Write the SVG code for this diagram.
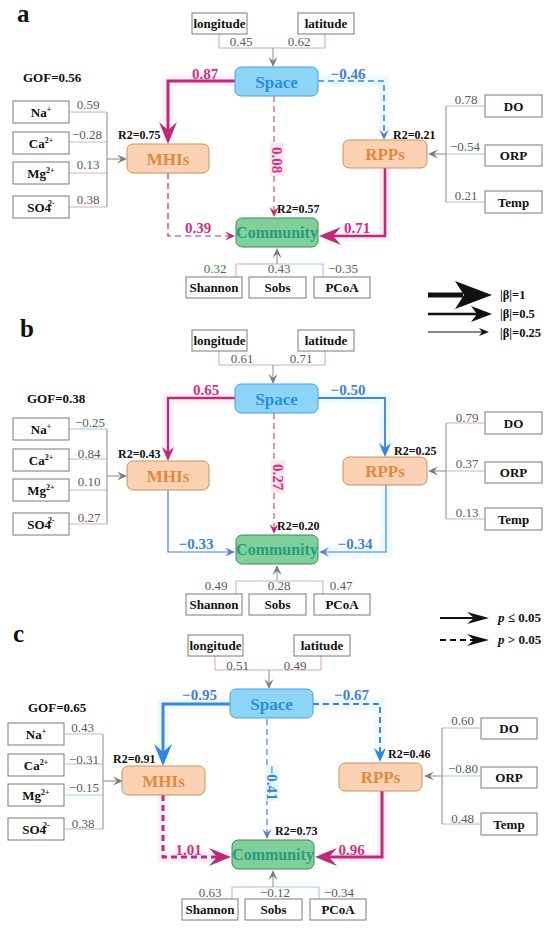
<svg xmlns="http://www.w3.org/2000/svg" width="550" height="928" viewBox="0 0 550 928">
<style>
text{font-family:"Liberation Serif","Times New Roman",serif}
.bg{fill:#fff}
.bx{fill:#fff;stroke:#7a7a7a;stroke-width:1}
.bt{font-weight:bold;font-size:13px;fill:#111;text-anchor:middle}
.ld{font-size:13px;fill:#5a5a5a;text-anchor:middle}
.r2{font-weight:bold;font-size:12px;fill:#111}
.gof{font-weight:bold;font-size:13px;fill:#111}
.pl{font-weight:bold;font-size:25px;fill:#111}
.nt{font-weight:bold;font-size:17px;text-anchor:middle}
.pm{font-weight:bold;font-size:15px;fill:#d12f82;text-anchor:middle}
.pb{font-weight:bold;font-size:15px;fill:#3d80db;text-anchor:middle}
.lg{font-weight:bold;font-size:12.5px;fill:#111}
.fp{fill:none;stroke:#d9a9c6;stroke-width:1.1}
.fn{fill:none;stroke:#9fcbee;stroke-width:1.1}
.fg{fill:none;stroke:#959595;stroke-width:1.1}
.cm{fill:none;stroke:#c0287a}
.cb{fill:none;stroke:#3b86e2}
.da{stroke-dasharray:6 4}
.gp{fill:none;stroke:#fef0f7;stroke-width:11}
.gb{fill:none;stroke:#eefafe;stroke-width:11}
.sp{fill:#8dd5f6;stroke:#4aa0dc;stroke-width:1}
.spt{fill:#2a8fe2}
.mh{fill:#fbd2b4;stroke:#c8935a;stroke-width:1}
.mht{fill:#e3893c}
.co{fill:#80d09c;stroke:#3d8b58;stroke-width:1}
.cot{fill:#2b9a80}
.sup{font-size:8px}
</style>
<defs>
<marker id="mLm" viewBox="-23 -10 24 20" refX="-14" refY="0" markerWidth="24" markerHeight="20" markerUnits="userSpaceOnUse" orient="auto"><path d="M0,0 L-22,-9 L-14,0 L-22,9Z" fill="#c0287a"/></marker>
<marker id="mLb" viewBox="-23 -10 24 20" refX="-14" refY="0" markerWidth="24" markerHeight="20" markerUnits="userSpaceOnUse" orient="auto"><path d="M0,0 L-22,-9 L-14,0 L-22,9Z" fill="#2f84e6"/></marker>
<marker id="mMm" viewBox="-15 -7 16 14" refX="-9" refY="0" markerWidth="16" markerHeight="14" markerUnits="userSpaceOnUse" orient="auto"><path d="M0,0 L-14,-6 L-9,0 L-14,6Z" fill="#c0287a"/></marker>
<marker id="mMb" viewBox="-15 -7 16 14" refX="-9" refY="0" markerWidth="16" markerHeight="14" markerUnits="userSpaceOnUse" orient="auto"><path d="M0,0 L-14,-6 L-9,0 L-14,6Z" fill="#2f84e6"/></marker>
<marker id="mSm" viewBox="-11 -5 12 10" refX="-6" refY="0" markerWidth="12" markerHeight="10" markerUnits="userSpaceOnUse" orient="auto"><path d="M0,0 L-10,-4.5 L-6,0 L-10,4.5Z" fill="#c0287a"/></marker>
<marker id="mSb" viewBox="-11 -5 12 10" refX="-6" refY="0" markerWidth="12" markerHeight="10" markerUnits="userSpaceOnUse" orient="auto"><path d="M0,0 L-10,-4.5 L-6,0 L-10,4.5Z" fill="#5b78e0"/></marker>
<marker id="mSg" viewBox="-11 -5 12 10" refX="-6" refY="0" markerWidth="12" markerHeight="10" markerUnits="userSpaceOnUse" orient="auto"><path d="M0,0 L-10,-4.5 L-6,0 L-10,4.5Z" fill="#7d7d7d"/></marker>
</defs>
<rect class="bg" x="0" y="0" width="550" height="928"/>

<!-- ================= PANEL A ================= -->
<g id="panel-a">
<text class="pl" x="17" y="22">a</text>
<text class="gof" x="23" y="82">GOF=0.56</text>
<g id="a-connectors">
<path class="gp" d="M235,81 H168 V140"/>
<path class="gb" d="M318,81 H384 V136"/>
<path class="gp" d="M385,168 V236 H325"/>
<path class="fp" d="M219,34 V48 H273"/>
<path class="fp" d="M325,34 V48 H273"/>
<path class="fg" d="M273,48 V61" marker-end="url(#mSg)"/>
<path class="fp" d="M69,112 H107"/>
<path class="fn" d="M69,142 H107"/>
<path class="fp" d="M69,173 H107"/>
<path class="fp" d="M69,207 H107"/>
<path class="fg" d="M107,112 V207"/>
<path class="fg" d="M107,159 H121" marker-end="url(#mSg)"/>
<path class="fp" d="M485,106 H446"/>
<path class="fn" d="M485,154 H446"/>
<path class="fp" d="M485,202 H446"/>
<path class="fg" d="M446,106 V202"/>
<path class="fg" d="M446,154 H434" marker-end="url(#mSg)"/>
<path class="fp" d="M236,277 V264 H277"/>
<path class="fn" d="M323,277 V264 H277"/>
<path class="fg" d="M277,264 V254" marker-end="url(#mSg)"/>
<path class="cm" stroke-width="3" d="M235,81 H168 V130" marker-end="url(#mLm)"/>
<path class="cb da" stroke-width="1.6" d="M318,81 H384 V134" marker-end="url(#mSb)"/>
<path class="cm da" stroke-width="1" d="M274,96 V211" marker-end="url(#mSm)"/>
<path class="cm da" stroke-width="1.2" d="M168,173 V236 H229" marker-end="url(#mSm)"/>
<path class="cm" stroke-width="2.6" d="M385,168 V236 H333" marker-end="url(#mLm)"/>
<rect x="270" y="143" width="14" height="33" fill="#fbe6f1"/>
<text class="pm" x="205" y="79">0.87</text>
<text class="pb" x="348" y="79">−0.46</text>
<text class="pm" transform="translate(277,160) rotate(90)" y="5">0.08</text>
<text class="pm" x="198" y="233">0.39</text>
<text class="pm" x="357" y="233">0.71</text>
<text class="ld" x="241" y="46">0.45</text>
<text class="ld" x="299" y="46">0.62</text>
<text class="ld" x="88" y="109">0.59</text>
<text class="ld" x="87" y="139">−0.28</text>
<text class="ld" x="88" y="169">0.13</text>
<text class="ld" x="88" y="204">0.38</text>
<text class="ld" x="466" y="104">0.78</text>
<text class="ld" x="465" y="151">−0.54</text>
<text class="ld" x="466" y="200">0.21</text>
<text class="ld" x="215" y="273" style="fill:#3a7d50">0.32</text>
<text class="ld" x="279" y="273">0.43</text>
<text class="ld" x="343" y="273">−0.35</text>
</g>
<g id="a-longitude"><rect class="bx" x="192" y="13" width="55" height="21"/><text class="bt" x="219.5" y="28">longitude</text></g>
<g id="a-latitude"><rect class="bx" x="298" y="13" width="56" height="21"/><text class="bt" x="326" y="28">latitude</text></g>
<g id="a-space"><rect class="sp" x="235" y="67" width="83" height="29" rx="6"/><text class="nt spt" x="276.5" y="87.5">Space</text></g>
<g id="a-mhis"><rect class="mh" x="127" y="144" width="82" height="29" rx="6"/><text class="nt mht" x="168" y="164.5">MHIs</text><text class="r2" x="118" y="139">R2=0.75</text></g>
<g id="a-rpps"><rect class="mh" x="343" y="140" width="84" height="28" rx="6"/><text class="nt mht" x="385" y="160">RPPs</text><text class="r2" x="393" y="139">R2=0.21</text></g>
<g id="a-community"><rect class="co" x="236" y="218" width="82" height="29" rx="6"/><text class="nt cot" x="277" y="238" style="font-size:16px">Community</text><text class="r2" x="277" y="213">R2=0.57</text></g>
<g id="a-na"><rect class="bx" x="13" y="101" width="56" height="22"/><text class="bt" x="41" y="116.5">Na<tspan class="sup" dy="-5">+</tspan></text></g>
<g id="a-ca"><rect class="bx" x="13" y="132" width="56" height="22"/><text class="bt" x="41" y="147.5">Ca<tspan class="sup" dy="-5">2+</tspan></text></g>
<g id="a-mg"><rect class="bx" x="13" y="162" width="56" height="22"/><text class="bt" x="41" y="177.5">Mg<tspan class="sup" dy="-5">2+</tspan></text></g>
<g id="a-so4"><rect class="bx" x="13" y="196" width="56" height="22"/><text class="bt" x="41" y="211.5">SO4<tspan class="sup" dx="-3" dy="-6">2-</tspan></text></g>
<g id="a-do"><rect class="bx" x="485" y="95" width="57" height="22"/><text class="bt" x="513.5" y="110.5">DO</text></g>
<g id="a-orp"><rect class="bx" x="485" y="145" width="57" height="21"/><text class="bt" x="513.5" y="160">ORP</text></g>
<g id="a-temp"><rect class="bx" x="485" y="191" width="57" height="22"/><text class="bt" x="513.5" y="206.5">Temp</text></g>
<g id="a-shannon"><rect class="bx" x="186" y="277" width="56" height="21"/><text class="bt" x="214" y="292">Shannon</text></g>
<g id="a-sobs"><rect class="bx" x="249" y="277" width="57" height="21"/><text class="bt" x="277.5" y="292">Sobs</text></g>
<g id="a-pcoa"><rect class="bx" x="314" y="277" width="56" height="21"/><text class="bt" x="342" y="292">PCoA</text></g>
</g>

<!-- ================= PANEL B ================= -->
<g id="panel-b" transform="translate(0,317)">
<text class="pl" x="20" y="20">b</text>
<text class="gof" x="27" y="86">GOF=0.38</text>
<g id="b-connectors">
<path class="gp" d="M235,81 H168 V140"/>
<path class="gb" d="M318,81 H385 V136"/>
<path class="gb" d="M386,168 V235 H325"/>
<path class="fp" d="M219,34 V48 H273"/>
<path class="fp" d="M325,34 V48 H273"/>
<path class="fg" d="M273,48 V61" marker-end="url(#mSg)"/>
<path class="fn" d="M69,112 H107"/>
<path class="fp" d="M69,142 H107"/>
<path class="fp" d="M69,173 H107"/>
<path class="fp" d="M69,207 H107"/>
<path class="fg" d="M107,112 V207"/>
<path class="fg" d="M107,159 H121" marker-end="url(#mSg)"/>
<path class="fp" d="M485,106 H446"/>
<path class="fp" d="M485,154 H446"/>
<path class="fp" d="M485,202 H446"/>
<path class="fg" d="M446,106 V202"/>
<path class="fg" d="M446,154 H434" marker-end="url(#mSg)"/>
<path class="fp" d="M236,277 V264 H277"/>
<path class="fp" d="M323,277 V264 H277"/>
<path class="fg" d="M277,264 V254" marker-end="url(#mSg)"/>
<path class="cm" stroke-width="2.3" d="M235,81 H168 V135" marker-end="url(#mMm)"/>
<path class="cb" stroke-width="1.8" d="M318,81 H385 V131" marker-end="url(#mMb)"/>
<path class="cm da" stroke-width="1" d="M274,96 V211" marker-end="url(#mSm)"/>
<path class="cb" stroke-width="1.2" d="M168,173 V235 H229" marker-end="url(#mSb)"/>
<path class="cb" stroke-width="1.2" d="M386,168 V235 H325" marker-end="url(#mSb)"/>
<rect x="271" y="143" width="14" height="33" fill="#fbe6f1"/>
<text class="pm" x="206" y="78">0.65</text>
<text class="pb" x="348" y="78">−0.50</text>
<text class="pm" transform="translate(278,160) rotate(90)" y="5">0.27</text>
<text class="pb" x="196" y="232">−0.33</text>
<text class="pb" x="355" y="232">−0.34</text>
<text class="ld" x="242" y="46">0.61</text>
<text class="ld" x="301" y="46">0.71</text>
<text class="ld" x="90" y="110">−0.25</text>
<text class="ld" x="89" y="141">0.84</text>
<text class="ld" x="89" y="169">0.10</text>
<text class="ld" x="89" y="205">0.27</text>
<text class="ld" x="467" y="105">0.79</text>
<text class="ld" x="467" y="151">0.37</text>
<text class="ld" x="467" y="200">0.13</text>
<text class="ld" x="216" y="273">0.49</text>
<text class="ld" x="279" y="273">0.28</text>
<text class="ld" x="341" y="273">0.47</text>
</g>
<g id="b-longitude"><rect class="bx" x="192" y="13" width="55" height="21"/><text class="bt" x="219.5" y="28">longitude</text></g>
<g id="b-latitude"><rect class="bx" x="298" y="13" width="56" height="21"/><text class="bt" x="326" y="28">latitude</text></g>
<g id="b-space"><rect class="sp" x="235" y="67" width="83" height="29" rx="6"/><text class="nt spt" x="276.5" y="87.5">Space</text></g>
<g id="b-mhis"><rect class="mh" x="127" y="144" width="82" height="29" rx="6"/><text class="nt mht" x="168" y="164.5">MHIs</text><text class="r2" x="118" y="141">R2=0.43</text></g>
<g id="b-rpps"><rect class="mh" x="343" y="140" width="84" height="28" rx="6"/><text class="nt mht" x="385" y="160">RPPs</text><text class="r2" x="394" y="138">R2=0.25</text></g>
<g id="b-community"><rect class="co" x="236" y="218" width="82" height="29" rx="6"/><text class="nt cot" x="277" y="238" style="font-size:16px">Community</text><text class="r2" x="277" y="213">R2=0.20</text></g>
<g id="b-na"><rect class="bx" x="13" y="101" width="56" height="22"/><text class="bt" x="41" y="116.5">Na<tspan class="sup" dy="-5">+</tspan></text></g>
<g id="b-ca"><rect class="bx" x="13" y="132" width="56" height="22"/><text class="bt" x="41" y="147.5">Ca<tspan class="sup" dy="-5">2+</tspan></text></g>
<g id="b-mg"><rect class="bx" x="13" y="162" width="56" height="22"/><text class="bt" x="41" y="177.5">Mg<tspan class="sup" dy="-5">2+</tspan></text></g>
<g id="b-so4"><rect class="bx" x="13" y="196" width="56" height="22"/><text class="bt" x="41" y="211.5">SO4<tspan class="sup" dx="-3" dy="-6">2-</tspan></text></g>
<g id="b-do"><rect class="bx" x="485" y="95" width="57" height="22"/><text class="bt" x="513.5" y="110.5">DO</text></g>
<g id="b-orp"><rect class="bx" x="485" y="145" width="57" height="21"/><text class="bt" x="513.5" y="160">ORP</text></g>
<g id="b-temp"><rect class="bx" x="485" y="191" width="57" height="22"/><text class="bt" x="513.5" y="206.5">Temp</text></g>
<g id="b-shannon"><rect class="bx" x="186" y="277" width="56" height="21"/><text class="bt" x="214" y="292">Shannon</text></g>
<g id="b-sobs"><rect class="bx" x="249" y="277" width="57" height="21"/><text class="bt" x="277.5" y="292">Sobs</text></g>
<g id="b-pcoa"><rect class="bx" x="314" y="277" width="56" height="21"/><text class="bt" x="342" y="292">PCoA</text></g>
</g>

<!-- ================= PANEL C ================= -->
<g id="panel-c" transform="translate(-4,622)">
<text class="pl" x="17" y="20">c</text>
<text class="gof" x="32" y="90">GOF=0.65</text>
<g id="c-connectors">
<path class="gb" d="M234,82 H167 V140"/>
<path class="gb" d="M317,82 H384 V136"/>
<path class="gp" d="M167,173 V235 H225"/>
<path class="gp" d="M386,169 V235 H325"/>
<path class="fp" d="M219,34 V48 H273"/>
<path class="fp" d="M325,34 V48 H273"/>
<path class="fg" d="M273,48 V61" marker-end="url(#mSg)"/>
<path class="fp" d="M69,112 H107"/>
<path class="fn" d="M69,142 H107"/>
<path class="fn" d="M69,173 H107"/>
<path class="fp" d="M69,207 H107"/>
<path class="fg" d="M107,112 V207"/>
<path class="fg" d="M107,159 H121" marker-end="url(#mSg)"/>
<path class="fp" d="M485,106 H446"/>
<path class="fn" d="M485,154 H446"/>
<path class="fp" d="M485,202 H446"/>
<path class="fg" d="M446,106 V202"/>
<path class="fg" d="M446,154 H434" marker-end="url(#mSg)"/>
<path class="fp" d="M236,277 V265 H277"/>
<path class="fn" d="M323,277 V265 H277"/>
<path class="fg" d="M277,265 V254" marker-end="url(#mSg)"/>
<path class="cb" stroke-width="3" d="M234,82 H167 V130" marker-end="url(#mLb)"/>
<path class="cb da" stroke-width="2" d="M317,82 H384 V131" marker-end="url(#mMb)"/>
<path class="cb da" stroke-width="1.2" d="M271,97 V211" marker-end="url(#mSb)"/>
<path class="cm da" stroke-width="3" d="M167,173 V235 H221" marker-end="url(#mLm)"/>
<path class="cm" stroke-width="3" d="M386,169 V235 H333" marker-end="url(#mLm)"/>
<rect x="269" y="143" width="14" height="36" fill="#e9f8fe"/>
<text class="pb" x="203.5" y="78">−0.95</text>
<text class="pb" x="355.5" y="78">−0.67</text>
<text class="pb" transform="translate(276,161) rotate(90)" y="5">−0.41</text>
<text class="pm" x="192.5" y="233">1.01</text>
<text class="pm" x="355.5" y="233">0.96</text>
<text class="ld" x="241.5" y="48">0.51</text>
<text class="ld" x="299" y="48">0.49</text>
<text class="ld" x="86.5" y="110">0.43</text>
<text class="ld" x="88" y="142">−0.31</text>
<text class="ld" x="88" y="170">−0.15</text>
<text class="ld" x="87" y="206">0.38</text>
<text class="ld" x="466.5" y="103">0.60</text>
<text class="ld" x="467" y="151">−0.80</text>
<text class="ld" x="466.5" y="201">0.48</text>
<text class="ld" x="214" y="275">0.63</text>
<text class="ld" x="279" y="275">−0.12</text>
<text class="ld" x="343" y="275">−0.34</text>
</g>
<g id="c-longitude"><rect class="bx" x="192" y="13" width="55" height="21"/><text class="bt" x="219.5" y="28">longitude</text></g>
<g id="c-latitude"><rect class="bx" x="298" y="13" width="56" height="21"/><text class="bt" x="326" y="28">latitude</text></g>
<g id="c-space"><rect class="sp" x="234" y="67" width="83" height="29" rx="6"/><text class="nt spt" x="275.5" y="87.5">Space</text></g>
<g id="c-mhis"><rect class="mh" x="126" y="144" width="83" height="29" rx="6"/><text class="nt mht" x="167.5" y="164.5">MHIs</text><text class="r2" x="117" y="141">R2=0.91</text></g>
<g id="c-rpps"><rect class="mh" x="343" y="141" width="83" height="28" rx="6"/><text class="nt mht" x="384.5" y="161">RPPs</text><text class="r2" x="392" y="136">R2=0.46</text></g>
<g id="c-community"><rect class="co" x="236" y="218" width="82" height="29" rx="6"/><text class="nt cot" x="277" y="238" style="font-size:16px">Community</text><text class="r2" x="279" y="213">R2=0.73</text></g>
<g id="c-na"><rect class="bx" x="12" y="101" width="56" height="22"/><text class="bt" x="40" y="116.5">Na<tspan class="sup" dy="-5">+</tspan></text></g>
<g id="c-ca"><rect class="bx" x="12" y="132" width="56" height="22"/><text class="bt" x="40" y="147.5">Ca<tspan class="sup" dy="-5">2+</tspan></text></g>
<g id="c-mg"><rect class="bx" x="12" y="162" width="56" height="22"/><text class="bt" x="40" y="177.5">Mg<tspan class="sup" dy="-5">2+</tspan></text></g>
<g id="c-so4"><rect class="bx" x="12" y="196" width="56" height="22"/><text class="bt" x="40" y="211.5">SO4<tspan class="sup" dx="-3" dy="-6">2-</tspan></text></g>
<g id="c-do"><rect class="bx" x="485" y="96" width="56" height="21"/><text class="bt" x="513" y="111">DO</text></g>
<g id="c-orp"><rect class="bx" x="485" y="145" width="56" height="21"/><text class="bt" x="513" y="160">ORP</text></g>
<g id="c-temp"><rect class="bx" x="485" y="191" width="56" height="22"/><text class="bt" x="513" y="206.5">Temp</text></g>
<g id="c-shannon"><rect class="bx" x="186" y="277" width="56" height="21"/><text class="bt" x="214" y="292">Shannon</text></g>
<g id="c-sobs"><rect class="bx" x="249" y="277" width="57" height="21"/><text class="bt" x="277.5" y="292">Sobs</text></g>
<g id="c-pcoa"><rect class="bx" x="314" y="277" width="56" height="21"/><text class="bt" x="342" y="292">PCoA</text></g>
</g>

<!-- ================= LEGENDS ================= -->
<g id="legend-beta">
<path d="M428,295 H463" stroke="#111" stroke-width="5" fill="none"/>
<polygon points="492,295 455,281 464,295 455,309" fill="#111"/>
<path d="M428,314 H478" stroke="#111" stroke-width="2.5" fill="none"/>
<polygon points="492,314 471,306 477,314 471,322" fill="#111"/>
<path d="M428,332 H482" stroke="#111" stroke-width="1.2" fill="none"/>
<polygon points="489,332 479,328 482,332 479,336" fill="#111"/>
<text class="lg" x="500" y="299">|β|=1</text>
<text class="lg" x="500" y="318">|β|=0.5</text>
<text class="lg" x="500" y="337">|β|=0.25</text>
</g>
<g id="legend-p">
<path d="M440,618 H475" stroke="#111" stroke-width="2" fill="none"/>
<polygon points="489,618 467,612 474,618 467,624" fill="#111"/>
<path d="M440,640 H475" stroke="#111" stroke-width="2" stroke-dasharray="6 4" fill="none"/>
<polygon points="489,640 467,634 474,640 467,646" fill="#111"/>
<text class="lg" x="498" y="622" style="font-size:13px"><tspan font-style="italic">p</tspan> ≤ 0.05</text>
<text class="lg" x="498" y="644" style="font-size:13px"><tspan font-style="italic">p</tspan> &gt; 0.05</text>
</g>
</svg>
